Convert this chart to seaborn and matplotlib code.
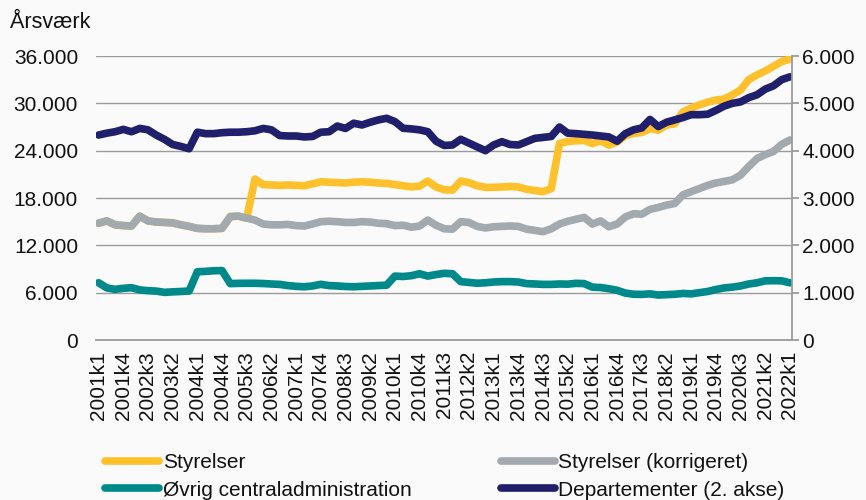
import matplotlib
matplotlib.use('Agg')
import matplotlib.pyplot as plt
import seaborn as sns
import pandas as pd
from matplotlib.ticker import FuncFormatter, FixedLocator

# Quarters 2001k1 .. 2022k1
quarters = [f"{y}k{q}" for y in range(2001, 2023) for q in range(1, 5)][:85]

styrelser_korr = [
    14800, 15100, 14600, 14500, 14450, 15700, 15100, 14950, 14900, 14850,
    14600, 14400, 14150, 14100, 14100, 14150, 15650, 15700, 15450, 15200,
    14700, 14600, 14600, 14650, 14500, 14450, 14700, 15000, 15050, 15000,
    14900, 14900, 15000, 14950, 14800, 14750, 14500, 14550, 14300, 14450,
    15200, 14550, 14100, 14050, 15000, 14900, 14400, 14200, 14350, 14400,
    14450, 14400, 14050, 13900, 13730, 14100, 14700, 15050, 15300, 15550,
    14700, 15100, 14350, 14700, 15600, 16000, 15950, 16560, 16800, 17100,
    17300, 18400, 18800, 19200, 19600, 19900, 20100, 20300, 20900, 22000,
    23000, 23500, 23900, 24800, 25350,
]

styrelser = styrelser_korr[:19] + [
    20400, 19700, 19650, 19600, 19650, 19600, 19550, 19800, 20050, 20000,
    19950, 19900, 20000, 20050, 20000, 19900, 19850, 19700, 19550, 19400,
    19500, 20150, 19400, 19050, 19000, 20150, 19950, 19550, 19350, 19350,
    19400, 19450, 19400, 19100, 18950, 18800, 19200, 24900, 25150, 25250,
    25300, 24900, 25250, 24700, 25100, 25900, 26200, 26300, 26800, 26600,
    27250, 27400, 28900, 29400, 29800, 30150, 30400, 30550, 31050, 31700,
    33000, 33600, 34100, 34700, 35300, 35600,
]

oevrig = [
    7260, 6600, 6420, 6550, 6630, 6350, 6250, 6200, 6040, 6100,
    6150, 6210, 8650, 8700, 8780, 8800, 7150, 7180, 7190, 7190,
    7160, 7100, 7050, 6900, 6800, 6750, 6850, 7060, 6900, 6850,
    6780, 6750, 6800, 6850, 6900, 6950, 8100, 8050, 8150, 8400,
    8100, 8300, 8450, 8400, 7400, 7300, 7200, 7250, 7350, 7400,
    7400, 7350, 7150, 7100, 7050, 7050, 7100, 7080, 7180, 7150,
    6700, 6650, 6500, 6300, 5950, 5800, 5780, 5850, 5700, 5750,
    5800, 5900, 5850, 6000, 6150, 6400, 6600, 6700, 6850, 7100,
    7250, 7500, 7520, 7500, 7250,
]

departementer = [
    4330, 4370, 4400, 4450, 4400, 4470, 4440, 4330, 4240, 4130,
    4090, 4040, 4390, 4360, 4360, 4380, 4390, 4390, 4400, 4420,
    4470, 4440, 4320, 4310, 4310, 4290, 4300, 4390, 4400, 4520,
    4470, 4580, 4543, 4600, 4650, 4684, 4614, 4473, 4460, 4440,
    4400, 4200, 4110, 4120, 4240, 4160, 4080, 4000, 4120, 4190,
    4130, 4120, 4190, 4260, 4280, 4300, 4500, 4370, 4360, 4345,
    4330, 4310, 4290, 4200, 4360, 4440, 4480, 4660, 4510, 4600,
    4650, 4700, 4760, 4760, 4770, 4850, 4940, 5000, 5030, 5120,
    5180, 5300, 5370, 5500, 5560,
]

left_ticks = [0, 6000, 12000, 18000, 24000, 30000, 36000]
right_ticks = [0, 1000, 2000, 3000, 4000, 5000, 6000]

df = pd.DataFrame({
    'pos': range(len(quarters)),
    'Styrelser': styrelser,
    'Styrelser (korrigeret)': styrelser_korr,
    'Øvrig centraladministration': oevrig,
    'Departementer (2. akse)': departementer,
})

colors = {
    'Styrelser': '#FFC12B',
    'Styrelser (korrigeret)': '#A2A9AF',
    'Øvrig centraladministration': '#00898A',
    'Departementer (2. akse)': '#1F1F6B',
}

sns.set_style('white')
plt.rcParams['font.family'] = ['Liberation Sans', 'DejaVu Sans']
bg = '#FAFAFA'
txt = '#111111'
fs = 15

fig = plt.figure(figsize=(8.66, 5), dpi=100, facecolor=bg)
ax = fig.add_axes([0.111, 0.32, 0.804, 0.568])
ax.set_facecolor(bg)
ax2 = ax.twinx()

lw = 5.5
for name in ['Styrelser', 'Styrelser (korrigeret)', 'Øvrig centraladministration']:
    sns.lineplot(data=df, x='pos', y=name, ax=ax, color=colors[name], lw=lw,
                 label=name, solid_capstyle='round', legend=False)
sns.lineplot(data=df, x='pos', y='Departementer (2. akse)', ax=ax2,
             color=colors['Departementer (2. akse)'], lw=lw,
             label='Departementer (2. akse)', solid_capstyle='round', legend=False)

thousands = FuncFormatter(lambda v, p: f"{int(v):,}".replace(',', '.'))

ax.set_ylim(0, 36000)
ax.set_yticks(left_ticks)
ax.yaxis.set_major_formatter(thousands)
ax2.set_ylim(0, 6000)
ax2.set_yticks(right_ticks)
ax2.yaxis.set_major_formatter(thousands)

ax.set_xlim(-0.3, len(quarters) - 1 + 0.3)
ax.set_xticks(range(0, len(quarters), 3))
ax.set_xticklabels(quarters[::3], rotation=90)
ax.xaxis.set_minor_locator(FixedLocator([i - 0.5 for i in range(len(quarters) + 1)]))

ax.grid(axis='y', color='#9B9B9B', lw=1)
ax.set_axisbelow(True)
ax.set_xlabel('')
ax.set_ylabel('')
ax2.set_ylabel('')

for a in (ax, ax2):
    for s in a.spines.values():
        s.set_visible(False)
ax2.spines['right'].set_visible(True)
ax2.spines['right'].set_color('#9B9B9B')
ax2.spines['right'].set_linewidth(1.3)
ax.spines['bottom'].set_visible(True)
ax.spines['bottom'].set_color('#9B9B9B')
ax.spines['bottom'].set_linewidth(1.3)

ax.tick_params(axis='y', length=0, labelsize=fs, labelcolor=txt, pad=13)
ax.tick_params(axis='x', which='major', length=0, labelsize=fs, labelcolor=txt, pad=8)
ax.tick_params(axis='x', which='minor', length=5, width=1, color='#9B9B9B', direction='out')
ax2.tick_params(axis='y', length=5, width=1.3, color='#9B9B9B', direction='out',
                labelsize=fs, labelcolor=txt, pad=2)

fig.text(0.012, 0.955, 'Årsværk', fontsize=15.5, color=txt, ha='left', va='center')

h1, l1 = ax.get_legend_handles_labels()
h2, l2 = ax2.get_legend_handles_labels()
handles = dict(zip(l1 + l2, h1 + h2))
order = ['Styrelser', 'Øvrig centraladministration',
         'Styrelser (korrigeret)', 'Departementer (2. akse)']
leg = fig.legend([handles[k] for k in order], order, ncol=2,
                 loc='upper left', bbox_to_anchor=(0.112, 0.11),
                 frameon=False, fontsize=fs, handlelength=2.6,
                 handletextpad=0.15, columnspacing=4.3, labelspacing=0.4,
                 borderaxespad=0)
for t in leg.get_texts():
    t.set_color(txt)

fig.savefig('out.png', dpi=100, facecolor=bg)
